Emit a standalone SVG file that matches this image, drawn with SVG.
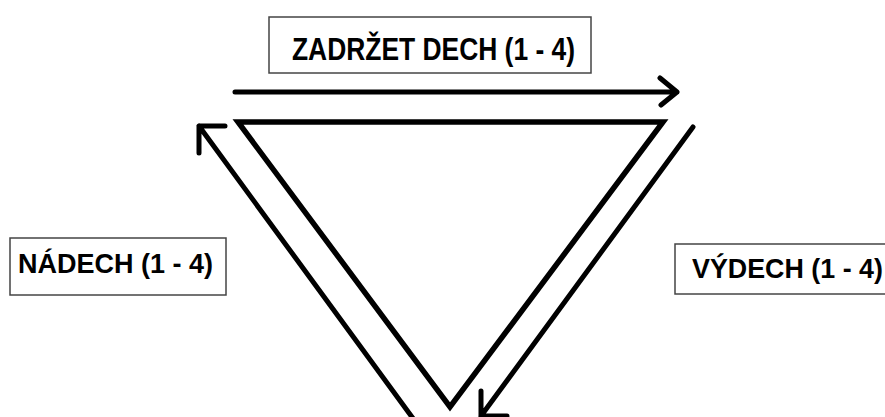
<svg xmlns="http://www.w3.org/2000/svg" width="885" height="417" viewBox="0 0 885 417">
<style>
.box{fill:#fff;stroke:#444;stroke-width:1.5}
.lbl{font-family:"Liberation Sans",Arial,sans-serif;font-weight:bold;fill:#000}
.ln{fill:none;stroke:#000;stroke-width:5;stroke-linecap:round;stroke-linejoin:round}
.tri{fill:none;stroke:#000;stroke-width:5.5;stroke-linejoin:miter}
</style>
<rect width="885" height="417" fill="#fff"/>
<g id="triangle">
<polygon class="tri" points="238,122 663,122 450,407"/>
</g>
<g id="connectors">
<path class="ln" d="M235,92 L677,92 M660,78 L677,92 L661,105"/>
<path class="ln" d="M199,126 L420,428 M199,126 L225,126 M199,126 L199,153"/>
<path class="ln" d="M693,127 L481,416 M481,416 L481,391 M481,416 L507,416"/>
</g>
<g id="zadrzet">
<rect class="box" x="269" y="17" width="322" height="56"/>
<text class="lbl" x="292" y="60" font-size="31" textLength="283" lengthAdjust="spacingAndGlyphs">ZADRŽET DECH (1 - 4)</text>
</g>
<g id="nadech">
<rect class="box" x="10" y="238" width="216" height="57"/>
<text class="lbl" x="18" y="273" font-size="27" textLength="195" lengthAdjust="spacingAndGlyphs">NÁDECH (1 - 4)</text>
</g>
<g id="vydech">
<rect class="box" x="675" y="244" width="220" height="50"/>
<text class="lbl" x="692" y="278" font-size="27" textLength="191" lengthAdjust="spacingAndGlyphs">VÝDECH (1 - 4)</text>
</g>
</svg>
